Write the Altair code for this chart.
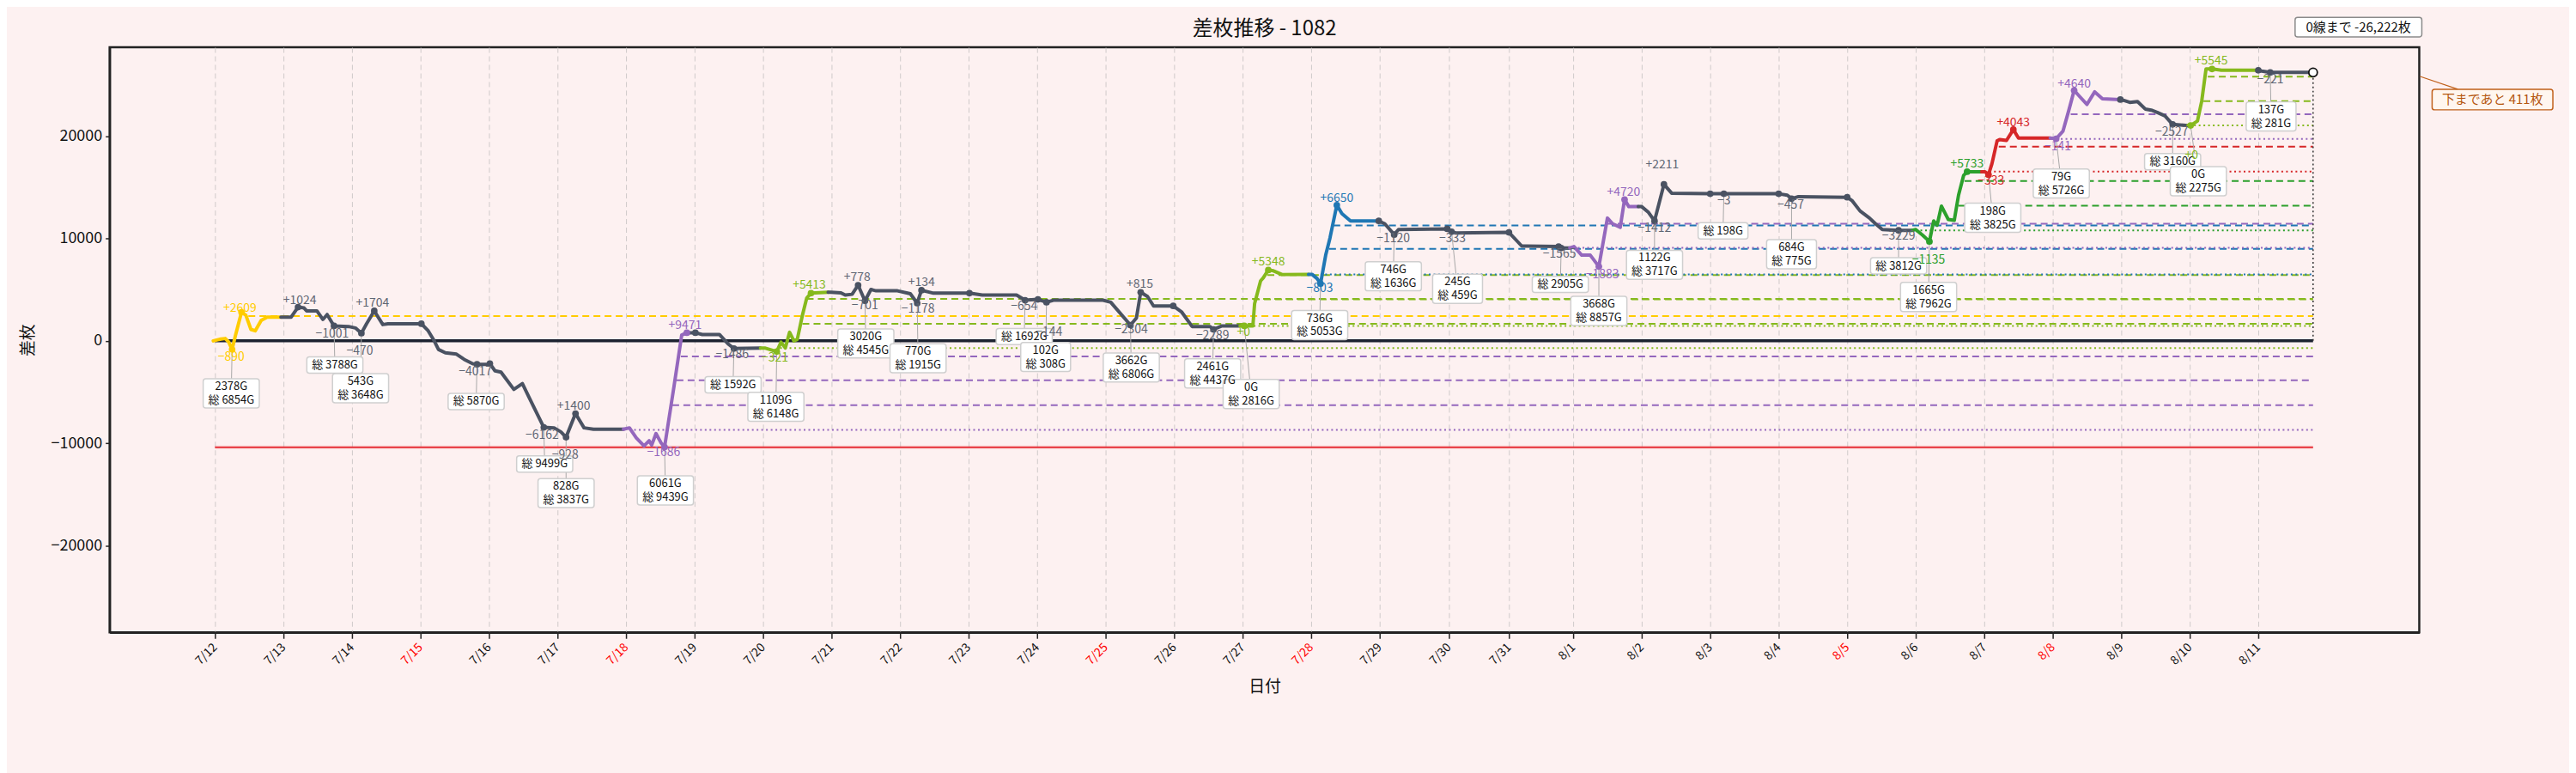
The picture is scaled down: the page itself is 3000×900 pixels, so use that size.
import altair as alt
import pandas as pd

# ---------------- layout / style ----------------
WIDTH, HEIGHT = 2697, 683
X_DOM = [-123, 2574]
Y_DOM = [-28480, 28680]
V_PER_PX = (Y_DOM[1] - Y_DOM[0]) / HEIGHT
FONT = "Noto Sans CJK JP"
BG = "#fdf1f1"
PALETTE = {"gray": "#4a5262", "yellow": "#ffcc00", "yg": "#86b91d", "blue": "#1f77b4",
           "green": "#2ca02c", "red": "#d62728", "purple": "#9467bd"}
TEXTPAL = dict(PALETTE, gray="#5f6673")
MINUS = "\u2212"

# ---------------- data ----------------
TICK_X = [0, 80, 160, 240, 320, 400, 480, 560, 640, 720, 800, 880, 960, 1040, 1120, 1200,
          1280, 1360, 1441, 1511, 1586, 1666, 1746, 1826, 1906, 1986, 2066, 2146, 2226, 2306, 2386]
TICK_LABEL = ["7/12", "7/13", "7/14", "7/15", "7/16", "7/17", "7/18", "7/19", "7/20", "7/21",
              "7/22", "7/23", "7/24", "7/25", "7/26", "7/27", "7/28", "7/29", "7/30", "7/31",
              "8/1", "8/2", "8/3", "8/4", "8/5", "8/6", "8/7", "8/8", "8/9", "8/10", "8/11"]
RED_DAYS = ["7/15", "7/18", "7/25", "7/28", "8/5", "8/8"]

LINE_X = [-2, 7, 12, 16, 20, 24, 31, 36, 42, 47, 54, 61, 77,
          89, 97, 104, 107, 119, 126, 131, 139, 156, 164, 171, 177, 186, 196, 202, 241, 249, 256, 261,
          269, 282, 291, 301, 306, 319, 321, 327, 334, 349, 359, 367, 384, 396, 404, 410, 421, 431, 442, 477,
          484, 492, 501, 507, 510, 515, 521, 525, 536, 545, 551,
          561, 569, 589, 599, 606, 637,
          642, 656, 661, 666, 671, 676, 680, 686, 691, 696, 716,
          719, 731, 736, 744, 751, 759, 766, 772, 797, 812, 820, 825, 832, 839, 881, 896, 936, 946, 961,
          971, 979, 1037, 1046, 1069, 1076, 1081, 1089, 1096, 1119, 1129, 1141, 1162, 1166, 1176, 1197,
          1202, 1212, 1214, 1221, 1224, 1230, 1236, 1246, 1277,
          1281, 1287, 1291, 1297, 1302, 1310, 1316, 1326, 1359,
          1366, 1377, 1382, 1439, 1444, 1449, 1511, 1526, 1569, 1572, 1582,
          1587, 1596, 1606, 1616, 1626, 1632, 1641, 1646, 1651, 1662,
          1666, 1674, 1681, 1692, 1701, 1746, 1762, 1826, 1836, 1841, 1849, 1906, 1912, 1921, 1932, 1939,
          1947, 1966, 1982,
          1986, 1994, 2002, 2007, 2011, 2016, 2024, 2031, 2036, 2042, 2046, 2063,
          2067, 2071, 2075, 2081, 2084, 2092, 2100, 2106, 2143,
          2150, 2158, 2165, 2171, 2178, 2186, 2195, 2204, 2225,
          2229, 2236, 2245, 2254, 2261, 2268, 2277, 2286, 2304,
          2307, 2315, 2320, 2325, 2332, 2343, 2386,
          2390, 2400, 2411, 2450]
LINE_V = [0, 180, 230, -110, -840, 560, 2790, 2510, 1120, 980, 2010, 2320, 2320,
          2320, 3300, 3210, 2930, 2930, 2090, 2570, 1460, 1400, 1260, 750, 1670, 2930, 1590, 1670, 1670,
          980, 0, -840, -1170, -1300, -1810, -2230, -2290, -2290, -2230, -2930, -3060, -4740, -4180, -5570,
          -8450, -8500, -8900, -9420, -7110, -8500, -8640, -8640,
          -8500, -9480, -10260, -9760, -10180, -9060, -9980, -10380, -4460, 560, 790,
          790, 620, 620, -280, -750, -700,
          -700, -1050, -130, -700, 840, 0, 140, 2510, 4180, 4660, 4750,
          4750, 4690, 4470, 4550, 5440, 3910, 5020, 4890, 4890, 4600, 3680, 4940, 4800, 4660, 4660, 4470,
          4470, 3970, 4050, 3770, 3970, 3970, 3770, 1540, 2230, 4750, 4330, 3410, 3410, 2800, 1400, 1400,
          1120, 1460, 1460,
          1460, 1460, 3630, 5860, 6140, 6920, 6840, 6480, 6500,
          6500, 6080, 5580, 8370, 10040, 13260, 12420, 11720, 11720,
          11440, 10380, 10880, 10940, 10660, 10540, 10600, 9260, 9210, 9070, 9070,
          9210, 8370, 8370, 7260, 12000, 11440, 11100, 13810, 13110, 13110,
          13110, 12550, 11720, 15290, 14430, 14370, 14370, 14370, 14230, 13890, 14090, 14030, 13670, 12690,
          12000, 11440, 10880, 10800, 10800,
          10880, 10330, 9710, 11720, 11300, 13170, 11860, 11770, 14230, 16180, 16520, 16520,
          16520, 16230, 17300, 19530, 19670, 19580, 20640, 19810, 19810,
          19750, 20500, 22590, 24470, 23820, 23100, 24330, 23660, 23570,
          23490, 23300, 23380, 22650, 22540, 22320, 21980, 21150, 21040,
          21040, 21480, 23430, 26560, 26560, 26440, 26440,
          26360, 26230, 26222, 26222]
SEG_START = [0, 12, 51, 62, 68, 79, 114, 123, 132, 143, 153, 172, 184, 193, 202, 211, 218]
SEG_COLOR = ["yellow", "gray", "purple", "gray", "yg", "gray", "yg", "blue", "gray", "purple",
             "gray", "green", "red", "purple", "gray", "yg", "gray"]

MARK_X = [20, 31, 97, 139, 171, 186, 241, 306, 321, 384, 410, 421, 525, 551, 561, 606, 656, 696,
          751, 759, 820, 825, 881, 946, 961, 971, 1069, 1081, 1119, 1166, 1202, 1230, 1291, 1310,
          1359, 1377, 1439, 1444, 1511, 1569, 1572, 1616, 1646, 1681, 1692, 1746, 1762, 1826, 1841,
          1906, 1966, 2002, 2046, 2071, 2100, 2150, 2171, 2225, 2286, 2307, 2332, 2386, 2400]
MARK_V = [-840, 2790, 3300, 1460, 750, 2930, 1670, -2290, -2230, -8450, -9420, -7110, -10380, 790,
          790, -750, -1050, 4660, 5440, 3910, 3680, 4940, 4660, 3970, 4050, 3770, 1540, 4750, 3410,
          1120, 1460, 6920, 5580, 13260, 11720, 10380, 10940, 10660, 10600, 9210, 9070, 7260, 13810,
          11720, 15290, 14370, 14370, 14370, 13890, 14030, 10800, 9710, 16520, 16230, 20640, 19750,
          24470, 23570, 21150, 21040, 26560, 26440, 26230]
MARK_C = (["yellow"] * 2 + ["gray"] * 10 + ["purple"] * 2 + ["gray"] * 2 + ["yg"] * 2 + ["gray"] * 12
          + ["yg"] * 2 + ["blue"] * 2 + ["gray"] * 7 + ["purple"] * 2 + ["gray"] * 8 + ["green"] * 2
          + ["red"] * 2 + ["purple"] * 2 + ["gray"] * 2 + ["yg"] * 2 + ["gray"] * 2)
END_X, END_V = 2450, 26222

LABEL_TEXT = ["+2609", "-890", "+1024", "-1001", "-470", "+1704", "-4017", "-6162", "-928", "+1400",
              "-1686", "+9471", "-1486", "-321", "+5413", "+778", "-701", "-1178", "+134", "-654",
              "-144", "-2304", "+815", "-2289", "+0", "+5348", "-803", "+6650", "-1120", "-333",
              "-1565", "-1883", "+4720", "-1412", "+2211", "-3", "-457", "-3229", "-1135", "+5733",
              "-333", "+4043", "-141", "+4640", "-2527", "+0", "+5545", "-221"]
LABEL_X = [29, 19, 99, 137, 169, 184, 304, 382, 409, 419, 524, 549, 604, 654, 694, 750, 759, 821,
           825, 945, 974, 1070, 1080, 1165, 1201, 1230, 1290, 1310, 1376, 1445, 1570, 1620, 1645,
           1681, 1690, 1762, 1840, 1966, 2001, 2046, 2074, 2100, 2152, 2171, 2285, 2308, 2331, 2400]
LABEL_V = [3213, -1590, 3908, 644, -1054, 3682, -3012, -9205, -11154, -6360, -10962, 1456, -1389,
           -1724, 5439, 6192, 3431, 3071, 5724, 3347, 787, 1063, 5523, 502, 837, 7673, 5079, 13891,
           9958, 9958, 8427, 6477, 14510, 11021, 17213, 13673, 13255, 10184, 7866, 17297, 15623,
           21338, 18911, 25104, 20368, 18133, 27338, 25522]
LABEL_C = (["yellow"] * 2 + ["gray"] * 8 + ["purple"] * 2 + ["gray"] + ["yg"] * 2 + ["gray"] * 9
           + ["yg"] * 2 + ["blue"] * 2 + ["gray"] * 3 + ["purple"] * 2 + ["gray"] * 5 + ["green"] * 2
           + ["red"] * 2 + ["purple"] * 2 + ["gray"] + ["yg"] * 2 + ["gray"])

BOX_X = [19, 140, 170, 305, 385, 410, 526, 605, 655, 760, 821, 945, 970, 1070, 1165, 1210, 1290,
         1376, 1451, 1571, 1616, 1681, 1761, 1841, 1966, 2001, 2076, 2156, 2286, 2316, 2401]
BOX_V = [-5130, -2368, -4627, -5925, -12033, -14878, -14610, -4293, -6443, -251, -1699, 418, -1573,
         -2602, -3180, -5196, 1540, 6309, 5079, 5515, 2929, 7422, 10744, 8468, 7322, 4284, 12025,
         15372, 17506, 15598, 21924]
BOX_TOP = ["2378G", "", "543G", "", "", "828G", "6061G", "", "1109G", "3020G", "770G", "", "102G",
           "3662G", "2461G", "0G", "736G", "746G", "245G", "", "3668G", "1122G", "", "684G", "",
           "1665G", "198G", "79G", "", "0G", "137G"]
BOX_BOTTOM = ["総 6854G", "総 3788G", "総 3648G", "総 5870G", "総 9499G", "総 3837G", "総 9439G",
              "総 1592G", "総 6148G", "総 4545G", "総 1915G", "総 1692G", "総 308G", "総 6806G",
              "総 4437G", "総 2816G", "総 5053G", "総 1636G", "総 459G", "総 2905G", "総 8857G",
              "総 3717G", "総 198G", "総 775G", "総 3812G", "総 7962G", "総 3825G", "総 5726G",
              "総 3160G", "総 2275G", "総 281G"]
BOX_FROM_X = [20, 139, 171, 306, 384, 410, 525, 606, 656, 759, 820, 946, 971, 1069, 1166, 1202, 1291,
              1377, 1444, 1572, 1616, 1681, 1762, 1841, 1966, 2002, 2071, 2150, 2286, 2307, 2400]
BOX_FROM_V = [-840, 1460, 750, -2290, -8450, -9420, -10380, -750, -1050, 3910, 3680, 3970, 3770,
              1540, 1120, 1460, 5580, 10380, 10660, 9070, 7260, 11720, 14370, 13890, 10800, 9710,
              16230, 19750, 21150, 21040, 26230]

REF_V = [25811, 23430, 21040, 22150, 19724, 18971, 16544, 15623, 13197, 10795, 11440, 9100, 11270,
         8987, 6500, 6418, 4050, 1456, 4100, 1674, -700, -1531, -3849, -6276, -8703, 2427]
REF_X0 = [2327, 2322, 2311, 2167, 2150, 2083, 2072, 2043, 2036, 1986, 1625, 1586, 1306, 1301, 1291,
          1229, 1212, 1202, 691, 686, 660, 544, 539, 534, 484, 39]
REF_C = ["yg", "yg", "yg", "purple", "purple", "red", "red", "green", "green", "green", "purple",
         "purple", "blue", "blue", "blue", "yg", "yg", "yg", "yg", "yg", "yg", "purple", "purple",
         "purple", "purple", "yellow"]
REF_S = ["dash", "dash", "dot", "dash", "dot", "dash", "dot", "dash", "dash", "dot", "dash", "dot",
         "dash", "dash", "dot", "dash", "dash", "dot", "dash", "dash", "dot", "dash", "dash", "dash",
         "dot", "dash"]
REF_END = 2450
RED_LINE_V = -10401
ZERO_X0 = 0

TITLE = "差枚推移 - 1082"
NOTE_ZERO = "0線まで -26,222枚"
NOTE_DOWN = "下まであと 411枚"

# ---------------- frames ----------------
rows = []
for s, (st, col) in enumerate(zip(SEG_START, SEG_COLOR)):
    en = SEG_START[s + 1] if s + 1 < len(SEG_START) else len(LINE_X) - 1
    for i in range(st, en + 1):
        rows.append({"x": LINE_X[i], "v": LINE_V[i], "seg": s, "c": PALETTE[col], "o": i})
line_df = pd.DataFrame(rows)

mark_df = pd.DataFrame({"x": MARK_X, "v": MARK_V, "c": [PALETTE[c] for c in MARK_C]})
label_df = pd.DataFrame({"x": LABEL_X, "v": LABEL_V,
                         "t": [t.replace("-", MINUS) for t in LABEL_TEXT],
                         "c": [TEXTPAL[c] for c in LABEL_C]})


def box_w(top, bottom):
    n = max(len(bottom) - 2, len(top))
    return 12 + 17 + 7.3 * n


box_rows = []
for i in range(len(BOX_X)):
    two = BOX_TOP[i] != ""
    w = box_w(BOX_TOP[i], BOX_BOTTOM[i])
    h = 34 if two else 19
    box_rows.append({"x": BOX_X[i] - w / 2, "x2": BOX_X[i] + w / 2,
                     "v": BOX_V[i] - h / 2 * V_PER_PX, "v2": BOX_V[i] + h / 2 * V_PER_PX,
                     "cx": BOX_X[i], "cv": BOX_V[i], "fx": BOX_FROM_X[i], "fv": BOX_FROM_V[i],
                     "top": BOX_TOP[i], "bottom": BOX_BOTTOM[i], "two": two})
box_df = pd.DataFrame(box_rows)

ref_df = pd.DataFrame({"x": REF_X0, "x2": [REF_END] * len(REF_V), "v": REF_V,
                       "c": [PALETTE[c] for c in REF_C], "s": REF_S})

# ---------------- encodings ----------------
XS = alt.Scale(domain=X_DOM, nice=False, zero=False)
YS = alt.Scale(domain=Y_DOM, nice=False, zero=False)
lab_arr = "[" + ",".join(f"'{t}'" for t in TICK_LABEL) + "]"
val_arr = "[" + ",".join(str(v) for v in TICK_X) + "]"
red_vals = "[" + ",".join(str(TICK_X[TICK_LABEL.index(d)]) for d in RED_DAYS) + "]"

X_AXIS = alt.Axis(values=TICK_X, labelExpr=f"{lab_arr}[indexof({val_arr}, datum.value)]",
                  labelAngle=315, labelAlign="right", labelBaseline="middle", labelPadding=8,
                  labelFont=FONT, labelFontSize=14,
                  labelColor={"condition": {"test": f"indexof({red_vals}, datum.value) >= 0",
                                            "value": "#ff0000"}, "value": "#111111"},
                  grid=True, gridDash=[6, 4], gridColor="#cfcaca", gridWidth=1,
                  ticks=True, tickSize=7, tickColor="#222222", tickWidth=1.5,
                  domain=True, domainColor="#222222", domainWidth=2.5,
                  title="日付", titleFont=FONT, titleFontSize=19, titleFontWeight="normal",
                  titleColor="#111111", titlePadding=14)
Y_AXIS = alt.Axis(values=[-20000, -10000, 0, 10000, 20000], format="d", grid=False,
                  labelFont=FONT, labelFontSize=18, labelColor="#111111", labelPadding=4,
                  ticks=True, tickSize=5, tickColor="#222222", tickWidth=1.5,
                  domain=True, domainColor="#222222", domainWidth=2.5,
                  title="差枚", titleFont=FONT, titleFontSize=19, titleFontWeight="normal",
                  titleColor="#111111", titlePadding=16)


def X(f="x"):
    return alt.X(f"{f}:Q", scale=XS, axis=X_AXIS)


def Y(f="v"):
    return alt.Y(f"{f}:Q", scale=YS, axis=Y_AXIS)


layers = []

# reference lines
for style, dash in (("dash", [8, 5]), ("dot", [2, 3.5])):
    layers.append(alt.Chart(ref_df[ref_df.s == style]).mark_rule(strokeWidth=2, strokeDash=dash)
                  .encode(x=X(), x2="x2:Q", y=Y(), color=alt.Color("c:N", scale=None)))

# red solid line with halo
red_df = pd.DataFrame({"x": [ZERO_X0], "x2": [REF_END], "v": [RED_LINE_V]})
layers.append(alt.Chart(red_df).mark_rule(strokeWidth=4, color="#f08080", opacity=0.35)
              .encode(x=X(), x2="x2:Q", y=Y()))
layers.append(alt.Chart(red_df).mark_rule(strokeWidth=1.6, color="#e3141e")
              .encode(x=X(), x2="x2:Q", y=Y()))

# zero line
zero_df = pd.DataFrame({"x": [ZERO_X0], "x2": [REF_END], "v": [0]})
layers.append(alt.Chart(zero_df).mark_rule(strokeWidth=3.5, color="#1c2230")
              .encode(x=X(), x2="x2:Q", y=Y()))

# vertical dotted end line
end_df = pd.DataFrame({"x": [END_X], "v": [0], "v2": [END_V]})
layers.append(alt.Chart(end_df).mark_rule(strokeWidth=1.5, color="#333333", strokeDash=[2, 3])
              .encode(x=X(), y=Y(), y2="v2:Q"))

# leader lines and boxes
layers.append(alt.Chart(box_df).mark_rule(strokeWidth=1, color="#a8a8a8")
              .encode(x=X("fx"), y=Y("fv"), x2="cx:Q", y2="cv:Q"))
layers.append(alt.Chart(box_df).mark_rect(fill="#ffffff", stroke="#cfcfcf", strokeWidth=1.5,
                                          cornerRadius=3)
              .encode(x=X(), x2="x2:Q", y=Y(), y2="v2:Q"))
two_df = box_df[box_df.two]
one_df = box_df[~box_df.two]
layers.append(alt.Chart(two_df).mark_text(font=FONT, fontSize=13, color="#111111", dy=-8)
              .encode(x=X("cx"), y=Y("cv"), text="top:N"))
layers.append(alt.Chart(two_df).mark_text(font=FONT, fontSize=13, color="#111111", dy=8)
              .encode(x=X("cx"), y=Y("cv"), text="bottom:N"))
layers.append(alt.Chart(one_df).mark_text(font=FONT, fontSize=13, color="#111111", dy=0)
              .encode(x=X("cx"), y=Y("cv"), text="bottom:N"))

# main line
layers.append(alt.Chart(line_df).mark_line(strokeWidth=4, strokeJoin="round", strokeCap="round")
              .encode(x=X(), y=Y(), detail="seg:N", order="o:Q",
                      color=alt.Color("c:N", scale=None)))
# markers
layers.append(alt.Chart(mark_df).mark_circle(size=60, opacity=1)
              .encode(x=X(), y=Y(), color=alt.Color("c:N", scale=None)))
# value labels
layers.append(alt.Chart(label_df).mark_text(font=FONT, fontSize=14)
              .encode(x=X(), y=Y(), text="t:N", color=alt.Color("c:N", scale=None)))
# end marker
layers.append(alt.Chart(pd.DataFrame({"x": [END_X], "v": [END_V]}))
              .mark_point(shape="circle", filled=True, fill="#ffffff", stroke="#111111",
                          strokeWidth=1.8, size=100, opacity=1)
              .encode(x=X(), y=Y()))

# title and notes (pixel positioned annotations)
one = pd.DataFrame({"a": [0]})
layers.append(alt.Chart(one).mark_text(text=TITLE, font=FONT, fontSize=24, color="#111111",
                                       baseline="middle", align="center")
              .encode(x=alt.value(WIDTH / 2), y=alt.value(-21)))
layers.append(alt.Chart(one).mark_rect(fill="#ffffff", stroke="#8a8a8a", strokeWidth=1.5,
                                       cornerRadius=3)
              .encode(x=alt.value(2552), x2=alt.value(2700), y=alt.value(-35), y2=alt.value(-12)))
layers.append(alt.Chart(one).mark_text(text=NOTE_ZERO, font=FONT, fontSize=15, color="#111111",
                                       baseline="middle", align="center")
              .encode(x=alt.value(2626), y=alt.value(-23.5)))
layers.append(alt.Chart(one).mark_rule(color="#c0601a", strokeWidth=1.2)
              .encode(x=alt.value(2698), x2=alt.value(2742), y=alt.value(34), y2=alt.value(49)))
layers.append(alt.Chart(one).mark_rect(fill="#fff6ef", stroke="#c0601a", strokeWidth=1.5,
                                       cornerRadius=3)
              .encode(x=alt.value(2712), x2=alt.value(2853), y=alt.value(49), y2=alt.value(73)))
layers.append(alt.Chart(one).mark_text(text=NOTE_DOWN, font=FONT, fontSize=15, color="#b5570f",
                                       baseline="middle", align="center")
              .encode(x=alt.value(2782.5), y=alt.value(61)))

chart = (alt.layer(*layers)
         .properties(width=WIDTH, height=HEIGHT, background=BG,
                     padding={"left": 120, "top": 46, "right": 175, "bottom": 163},
                     autosize=alt.AutoSizeParams(type="none"))
         .configure_view(stroke="#222222", strokeWidth=2.5, fill=BG))

chart.save("out.html", embed_options={"renderer": "svg", "actions": False})
